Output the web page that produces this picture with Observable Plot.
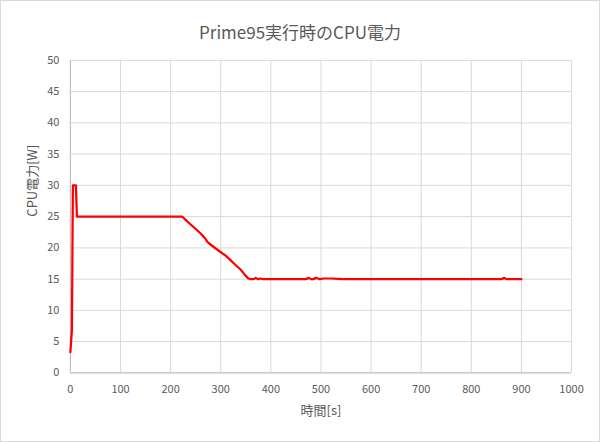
<!DOCTYPE html>
<html><head><meta charset="utf-8">
<script src="https://cdn.jsdelivr.net/npm/d3@7"></script>
<script src="https://cdn.jsdelivr.net/npm/@observablehq/plot@0.6"></script>
<style>
html,body{margin:0;padding:0;background:#fff;}
#wrap{position:relative;width:600px;height:442px;box-sizing:border-box;border:1px solid #d9d9d9;background:#fff;font-family:"Noto Sans CJK JP","Noto Sans",sans-serif;}
#title{position:absolute;left:0;top:20px;width:598px;text-align:center;font-size:17px;color:#595959;line-height:22px;}
#chart{position:absolute;left:-1px;top:-1px;}
</style>
</head><body>
<div id="wrap"><div id="title">Prime95実行時のCPU電力</div><div id="chart"></div></div>
<script>
const times = [0,3,5,6,11,13,223,235,249,260,269,273,277,290,309,320,329,340,349,355,360,366,370,374,378,385,400,470,476,480,485,490,494,498,505,520,535,545,600,700,800,860,866,870,880,900];
const power = [3.3,6.8,30,30,30,25,25,24.1,23.1,22.3,21.5,21.0,20.7,19.9,18.8,18.0,17.3,16.5,15.6,15.1,15.0,15.0,15.2,15.0,15.1,15.0,15.0,15.0,15.2,15.0,15.0,15.2,15.1,15.0,15.1,15.1,15.05,15.0,15.0,15.0,15.0,15.0,15.2,15.0,15.0,15.0];
const xTicks = [0,100,200,300,400,500,600,700,800,900,1000];
const yTicks = [0,5,10,15,20,25,30,35,40,45,50];
const xLabel = "時間[s]";
const yLabel = "CPU電力[W]";

const data = times.map((t,i)=>({t, v: power[i]}));

const chart = Plot.plot({
  width: 600,
  height: 442,
  marginTop: 60,
  marginBottom: 69,
  marginLeft: 70,
  marginRight: 28,
  style: {fontFamily: '"Noto Sans CJK JP","Noto Sans",sans-serif', fontSize: "11px", color: "#595959", background: "transparent"},
  x: {domain: [0,1000], label: null},
  y: {domain: [0,50], label: null},
  marks: [
    Plot.gridX(xTicks, {stroke: "#d9d9d9", strokeOpacity: 1}),
    Plot.gridY(yTicks, {stroke: "#d9d9d9", strokeOpacity: 1}),
    Plot.ruleY([0], {stroke: "#bfbfbf"}),
    Plot.ruleX([0], {stroke: "#bfbfbf"}),
    Plot.axisX({ticks: xTicks, tickFormat: d => String(d), tickSize: 0, tickPadding: 12, label: null, fill: "#595959"}),
    Plot.axisY({ticks: yTicks, tickFormat: d => String(d), tickSize: 0, tickPadding: 11, label: null, fill: "#595959"}),
    Plot.line(data, {x: "t", y: "v", stroke: "#ff0000", strokeWidth: 2.25, strokeLinejoin: "round"}),
    Plot.text([xLabel], {frameAnchor: "bottom", dy: 42, fontSize: 13, fill: "#595959"}),
    Plot.text([yLabel], {frameAnchor: "left", dx: -38, rotate: -90, fontSize: 13, fill: "#595959"})
  ]
});
document.getElementById("chart").appendChild(chart);
</script>
</body></html>
